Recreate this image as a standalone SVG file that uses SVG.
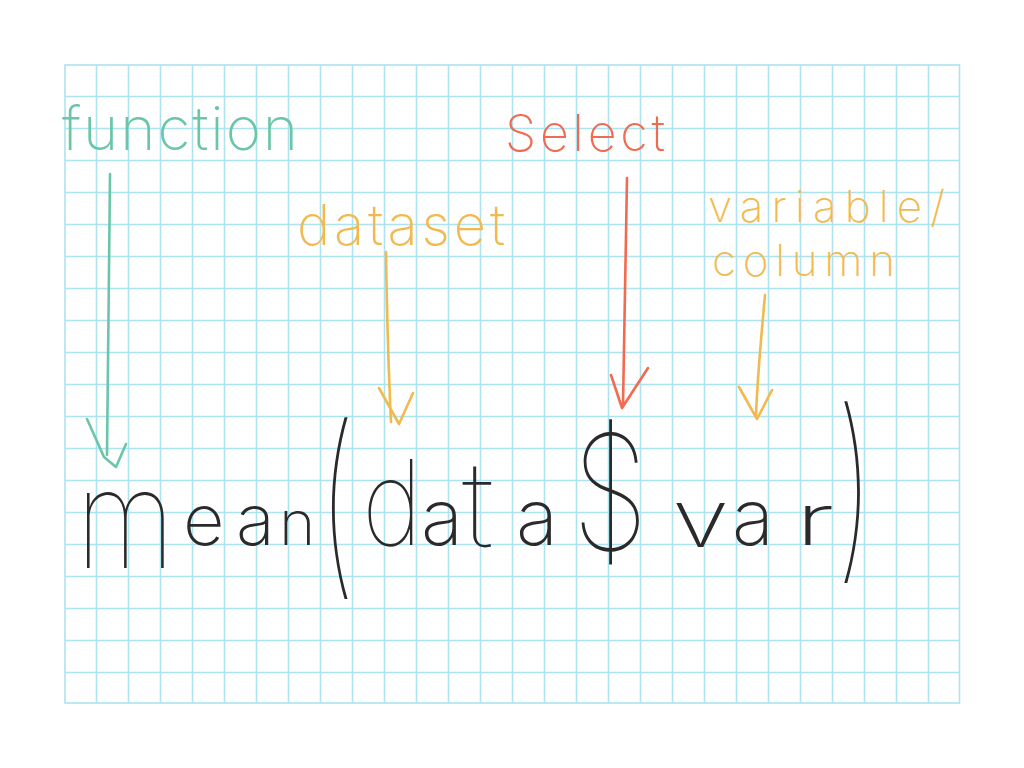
<svg xmlns="http://www.w3.org/2000/svg" width="1024" height="768" viewBox="0 0 1024 768">
<style>
.grid{fill:none;stroke:#ade3ef;stroke-width:1.6}
.hand{font-family:Inter,"Open Sans","DejaVu Sans",sans-serif;font-weight:200}
.thin{font-weight:100}
.green{fill:#6bc6a8}
.red{fill:#f26a50}
.orange{fill:#f2b94e}
.ink{fill:#2a2a2a}
.arr{fill:none;stroke-width:2.6;stroke-linecap:round;stroke-linejoin:round}
.sg{stroke:#6bc6a8}
.sr{stroke:#f26a50}
.so{stroke:#f2b94e}
</style>
<rect width="1024" height="768" fill="#ffffff"/>
<g id="grid">
<rect class="grid" x="65" y="65" width="894.5" height="638"/>
<path class="grid" d="M96.5 65V703M128.5 65V703M160.5 65V703M192.5 65V703M224.5 65V703M256.5 65V703M288.5 65V703M320.5 65V703M352.5 65V703M384.5 65V703M416.5 65V703M448.5 65V703M480.5 65V703M512.5 65V703M544.5 65V703M576.5 65V703M608.5 65V703M640.5 65V703M672.5 65V703M704.5 65V703M736.5 65V703M768.5 65V703M800.5 65V703M832.5 65V703M864.5 65V703M896.5 65V703M928.5 65V703"/>
<path class="grid" d="M65 96.5H959.5M65 128.5H959.5M65 160.5H959.5M65 192.5H959.5M65 224.5H959.5M65 256.5H959.5M65 288.5H959.5M65 320.5H959.5M65 352.5H959.5M65 384.5H959.5M65 416.5H959.5M65 448.5H959.5M65 480.5H959.5M65 512.5H959.5M65 544.5H959.5M65 576.5H959.5M65 608.5H959.5M65 640.5H959.5M65 672.5H959.5"/>
</g>
<g id="label-function"><text class="hand green" x="62" y="150" font-size="60" textLength="236" lengthAdjust="spacing">function</text></g>
<g id="label-select"><text class="hand red" x="505" y="151" font-size="50" textLength="160" lengthAdjust="spacing">Select</text></g>
<g id="label-dataset"><text class="hand orange" x="297" y="245" font-size="56" textLength="208" lengthAdjust="spacing">dataset</text></g>
<g id="label-variable"><text class="hand orange" font-size="44"><tspan x="708" y="222" textLength="237" lengthAdjust="spacing">variable/</tspan><tspan x="712" y="276" textLength="183" lengthAdjust="spacing">column</tspan></text></g>
<g id="connectors">
<path class="arr sg" d="M110 174C109 260 108 380 107 455M87 419L104 457L116 467L126 444"/>
<path class="arr so" d="M386 252C387 320 389 380 391 422M379 388L399 424L413 393"/>
<path class="arr sr" d="M627 178C626 260 624 340 623 405M611 375L622 408L648 368"/>
<path class="arr so" d="M765 295C761 340 757 380 756 417M739 387L757 419L772 390"/>
</g>
<g id="expression" class="hand ink">
<text class="thin" transform="translate(76 568) scale(0.95 1.15)" font-size="120">m</text>
<text transform="translate(183 545)" font-size="72">e</text>
<text transform="translate(236 545)" font-size="72">a</text>
<text transform="translate(279 545)" font-size="62">n</text>
<text class="thin" transform="translate(318 572) scale(0.6 1)" font-size="200">(</text>
<text class="thin" transform="translate(362 545) scale(0.88 1)" font-size="118">d</text>
<text transform="translate(421 545)" font-size="78">a</text>
<text class="thin" transform="translate(462 547) scale(1.1 1)" font-size="120">t</text>
<text transform="translate(516 545)" font-size="78">a</text>
<text class="thin" transform="translate(572 550) scale(0.78 1)" font-size="160">$</text>
<text transform="translate(672 547) scale(1.3 1)" font-size="80">v</text>
<text transform="translate(732 545)" font-size="78">a</text>
<text transform="translate(795 545) scale(1.6 1)" font-size="72">r</text>
<text class="thin" transform="translate(836 556) scale(0.6 1)" font-size="200">)</text>
</g>
</svg>
